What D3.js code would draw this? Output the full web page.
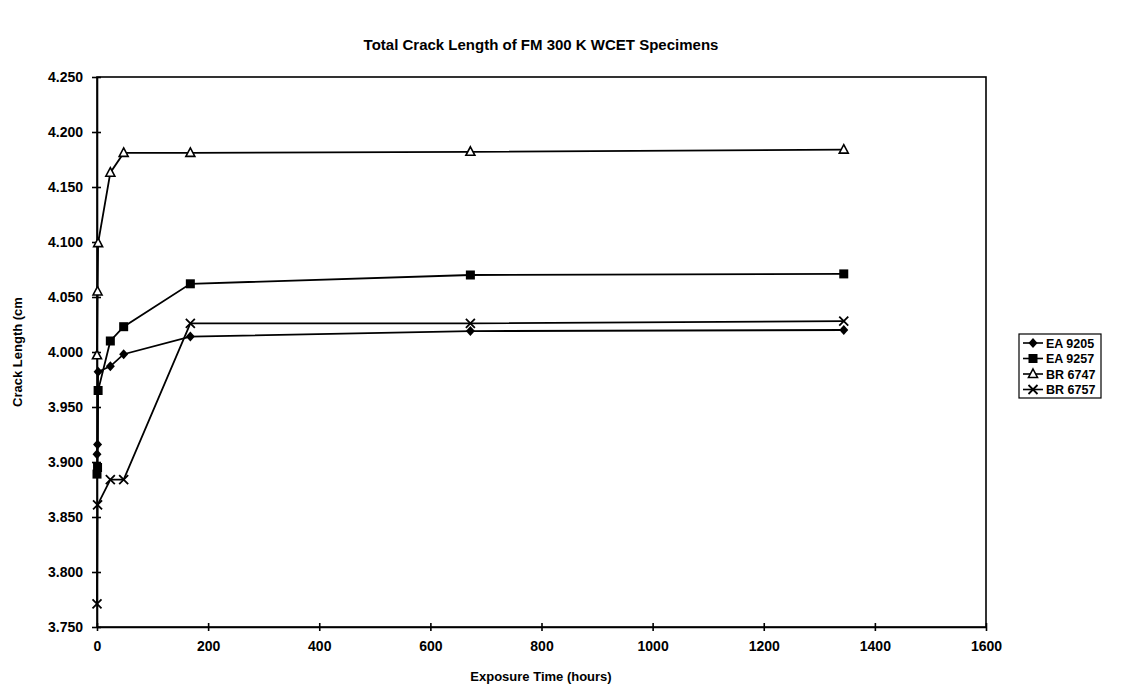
<!DOCTYPE html>
<html>
<head>
<meta charset="utf-8">
<script src="https://cdn.jsdelivr.net/npm/d3@7"></script>
<style>
  html, body { margin: 0; padding: 0; background: #fff; }
  svg { display: block; font-family: "Liberation Sans", Arial, sans-serif; }
  .tick text { font-size: 14px; font-weight: bold; fill: #000; }
  .tick line, .domain { stroke: #000; stroke-width: 1.6; }
</style>
</head>
<body>
<svg id="chart" width="1138" height="687"></svg>
<script>
/* ── Data ───────────────────────────────────────────────────────────────────── */
const hours = [0, 1, 2, 24, 48, 168, 672, 1344];
const seriesNames = ["EA 9205", "EA 9257", "BR 6747", "BR 6757"];
const ea9205 = [3.907, 3.916, 3.982, 3.987, 3.998, 4.014, 4.019, 4.020];
const ea9257 = [3.889, 3.895, 3.965, 4.010, 4.023, 4.062, 4.070, 4.071];
const br6747 = [3.997, 4.055, 4.099, 4.163, 4.181, 4.181, 4.182, 4.184];
const br6757 = [3.771, 3.861, null, 3.884, 3.884, 4.026, 4.026, 4.028];
const xTicks = [0, 200, 400, 600, 800, 1000, 1200, 1400, 1600];
const yTicks = [3.75, 3.8, 3.85, 3.9, 3.95, 4.0, 4.05, 4.1, 4.15, 4.2, 4.25];

const series = [
  { name: seriesNames[0], values: ea9205, marker: "diamond" },
  { name: seriesNames[1], values: ea9257, marker: "square" },
  { name: seriesNames[2], values: br6747, marker: "triangle" },
  { name: seriesNames[3], values: br6757, marker: "cross" },
];

/* ── Layout ─────────────────────────────────────────────────────────────────── */
const svg = d3.select("#chart");
const plot = { left: 97, right: 986, top: 77, bottom: 627 };

const x = d3.scaleLinear().domain([0, 1600]).range([plot.left, plot.right]);
const y = d3.scaleLinear().domain([3.75, 4.25]).range([plot.bottom, plot.top]);

// plot frame
svg.append("rect")
  .attr("x", plot.left).attr("y", plot.top)
  .attr("width", plot.right - plot.left).attr("height", plot.bottom - plot.top)
  .attr("fill", "none").attr("stroke", "#000").attr("stroke-width", 1.6);

// axes (ticks cross the axis line)
const xAxis = svg.append("g")
  .attr("transform", `translate(0,${plot.bottom})`)
  .call(d3.axisBottom(x).tickValues(xTicks).tickSize(0).tickPadding(14).tickFormat(d3.format("d")));
xAxis.selectAll(".tick line").attr("y1", -4).attr("y2", 4);

const yAxis = svg.append("g")
  .attr("transform", `translate(${plot.left},0)`)
  .call(d3.axisLeft(y).tickValues(yTicks).tickSize(0).tickPadding(14).tickFormat(d3.format(".3f")));
yAxis.selectAll(".tick line").attr("x1", -5).attr("x2", 4);

// titles
svg.append("text")
  .attr("x", 541).attr("y", 50)
  .attr("text-anchor", "middle")
  .style("font-size", "15px").style("font-weight", "bold")
  .text("Total Crack Length of FM 300 K WCET Specimens");

svg.append("text")
  .attr("x", 541).attr("y", 681)
  .attr("text-anchor", "middle")
  .style("font-size", "13px").style("font-weight", "bold")
  .text("Exposure Time (hours)");

svg.append("text")
  .attr("transform", "translate(22,352) rotate(-90)")
  .attr("text-anchor", "middle")
  .style("font-size", "13px").style("font-weight", "bold")
  .text("Crack Length (cm");

/* ── Markers ────────────────────────────────────────────────────────────────── */
function drawMarker(g, type, cx, cy) {
  if (type === "diamond") {
    g.append("path").attr("d", `M${cx},${cy - 5}L${cx + 4.5},${cy}L${cx},${cy + 5}L${cx - 4.5},${cy}Z`)
      .attr("fill", "#000");
  } else if (type === "square") {
    g.append("rect").attr("x", cx - 4.5).attr("y", cy - 4.5).attr("width", 9).attr("height", 9)
      .attr("fill", "#000");
  } else if (type === "triangle") {
    g.append("path").attr("d", `M${cx},${cy - 5}L${cx + 4.5},${cy + 3.5}L${cx - 4.5},${cy + 3.5}Z`)
      .attr("fill", "#fff").attr("stroke", "#000").attr("stroke-width", 1.6);
  } else {
    g.append("path").attr("d", `M${cx - 4.5},${cy - 4.5}L${cx + 4.5},${cy + 4.5}M${cx + 4.5},${cy - 4.5}L${cx - 4.5},${cy + 4.5}`)
      .attr("stroke", "#000").attr("stroke-width", 1.8);
  }
}

/* ── Series ─────────────────────────────────────────────────────────────────── */
const line = d3.line().x(d => x(d.h)).y(d => y(d.v));

series.forEach(s => {
  const pts = s.values.map((v, i) => ({ h: hours[i], v })).filter(d => d.v != null);
  const g = svg.append("g");
  g.append("path").datum(pts)
    .attr("d", line)
    .attr("fill", "none").attr("stroke", "#000").attr("stroke-width", 1.8);
  pts.forEach(d => drawMarker(g, s.marker, x(d.h), y(d.v)));
});

/* ── Legend ─────────────────────────────────────────────────────────────────── */
const lg = svg.append("g").attr("transform", "translate(1019,334)");
lg.append("rect")
  .attr("width", 82).attr("height", 64)
  .attr("fill", "#fff").attr("stroke", "#000").attr("stroke-width", 1.2);

series.forEach((s, i) => {
  const cy = 9 + i * 15.5;
  lg.append("line").attr("x1", 4).attr("x2", 24).attr("y1", cy).attr("y2", cy)
    .attr("stroke", "#000").attr("stroke-width", 1.6);
  drawMarker(lg, s.marker, 14, cy);
  lg.append("text").attr("x", 27).attr("y", cy + 4.5)
    .style("font-size", "12.5px").style("font-weight", "bold")
    .text(s.name);
});
</script>
</body>
</html>
